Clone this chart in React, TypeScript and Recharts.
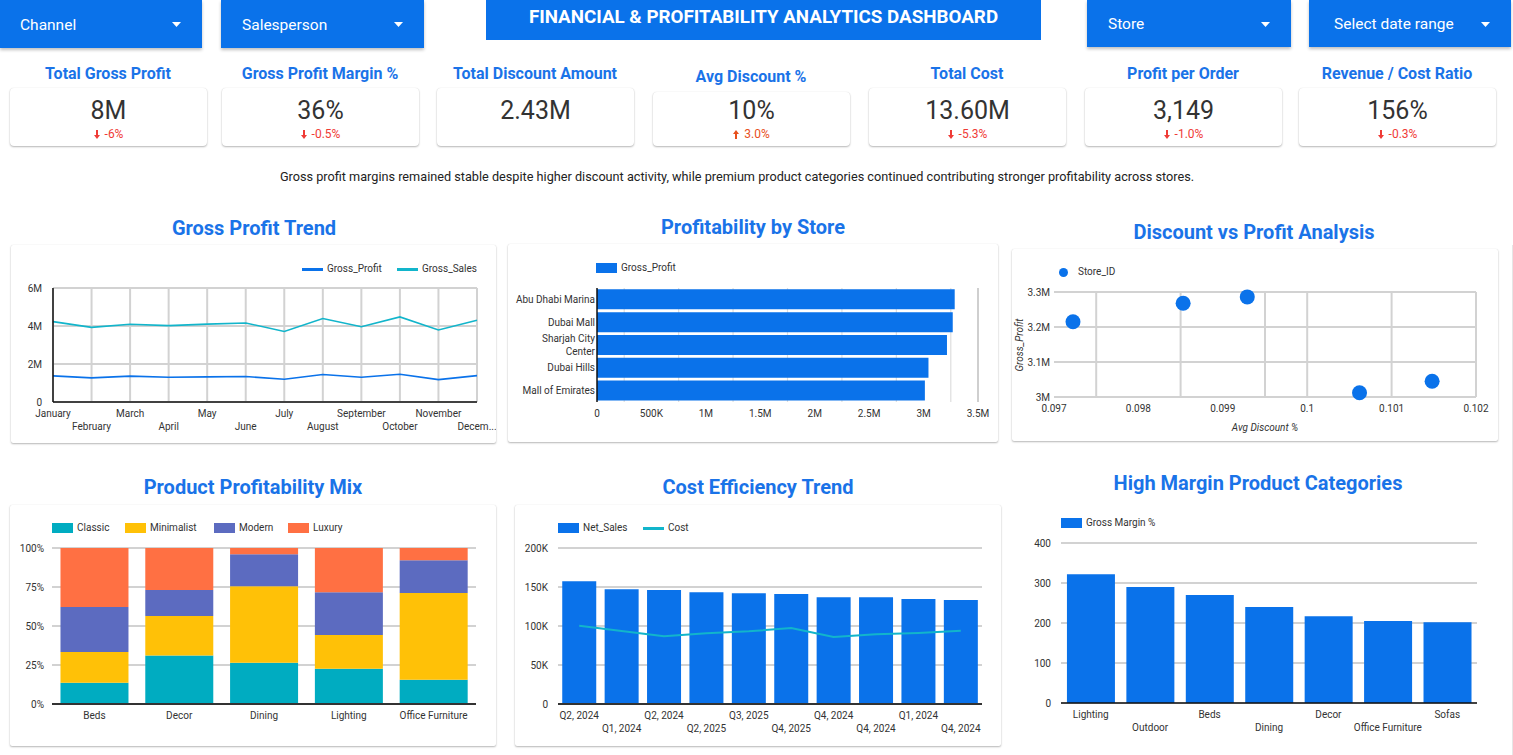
import React from 'react';
import {
  LineChart,
  Line,
  BarChart,
  Bar,
  ComposedChart,
  ScatterChart,
  Scatter,
  XAxis,
  YAxis,
  CartesianGrid,
  ReferenceLine,
} from 'recharts';

// ---------- data ----------
const months = [
  'January', 'February', 'March', 'April', 'May', 'June',
  'July', 'August', 'September', 'October', 'November', 'December',
];
const monthlyGrossProfit = [1375000, 1270000, 1360000, 1300000, 1320000, 1340000, 1200000, 1450000, 1300000, 1460000, 1180000, 1390000];
const monthlyGrossSales = [4230000, 3930000, 4090000, 4020000, 4100000, 4160000, 3710000, 4390000, 3960000, 4480000, 3790000, 4300000];
const trendTicks = [0, 2000000, 4000000, 6000000];
const trendGrid = [0, 1000000, 2000000, 3000000, 4000000, 5000000, 6000000];

const stores = ['Abu Dhabi Marina', 'Dubai Mall', 'Sharjah City Center', 'Dubai Hills', 'Mall of Emirates'];
const storeGrossProfit = [3286000, 3268000, 3215000, 3045000, 3012000];
const storeAvgDiscount = [0.09929, 0.09853, 0.097225, 0.10148, 0.10062];
const storeTicks = [0, 500000, 1000000, 1500000, 2000000, 2500000, 3000000, 3500000];
const storeGrid = [250000, 500000, 750000, 1000000, 1250000, 1500000, 1750000, 2000000, 2250000, 2500000, 2750000, 3000000, 3250000];

const discountTicks = [0.097, 0.098, 0.099, 0.1, 0.101, 0.102];
const discountGrid = [0.097, 0.0975, 0.098, 0.0985, 0.099, 0.0995, 0.1, 0.1005, 0.101, 0.1015, 0.102];
const scatterProfitTicks = [3000000, 3100000, 3200000, 3300000];
const scatterProfitGrid = [3000000, 3050000, 3100000, 3150000, 3200000, 3250000, 3300000];

const mixCategories = ['Beds', 'Decor', 'Dining', 'Lighting', 'Office Furniture'];
const classicShare = [13.6, 31.1, 26.4, 22.6, 15.5];
const minimalistShare = [19.8, 25.3, 49.1, 21.7, 55.6];
const modernShare = [28.7, 16.6, 20.5, 27.4, 21.0];
const luxuryShare = [37.9, 27.0, 4.0, 28.3, 7.9];
const shareTicks = [0, 0.25, 0.5, 0.75, 1];

const quarters = ['Q2, 2024', 'Q1, 2024', 'Q2, 2024', 'Q2, 2025', 'Q3, 2025', 'Q4, 2025', 'Q4, 2024', 'Q4, 2024', 'Q1, 2024', 'Q4, 2024'];
const quarterNetSales = [157400, 147200, 146000, 143400, 142100, 140900, 137000, 137000, 134500, 133200];
const quarterCost = [100400, 93600, 86800, 90600, 93200, 97400, 86000, 89400, 91100, 94000];
const salesTicks = [0, 50000, 100000, 150000, 200000];
const salesGrid = [0, 25000, 50000, 75000, 100000, 125000, 150000, 175000, 200000];

const marginCategories = ['Lighting', 'Outdoor', 'Beds', 'Dining', 'Decor', 'Office Furniture', 'Sofas'];
const grossMarginPct = [322, 290, 270, 240, 217, 205, 202];
const marginTicks = [0, 100, 200, 300, 400];
const marginGrid = [0, 50, 100, 150, 200, 250, 300, 350, 400];

const filters = ['Channel', 'Salesperson', 'Store', 'Select date range'];
const kpiTitles = ['Total Gross Profit', 'Gross Profit Margin %', 'Total Discount Amount', 'Avg Discount %', 'Total Cost', 'Profit per Order', 'Revenue / Cost Ratio'];
const kpiValues = ['8M', '36%', '2.43M', '10%', '13.60M', '3,149', '156%'];
const kpiDeltas = ['-6%', '-0.5%', '', '3.0%', '-5.3%', '-1.0%', '-0.3%'];

// ---------- tables built for the charts ----------
const trendData = months.map((m, i) => ({ month: m, Gross_Profit: monthlyGrossProfit[i], Gross_Sales: monthlyGrossSales[i] }));
const storeData = stores.map((s, i) => ({ store: s, Gross_Profit: storeGrossProfit[i] }));
const scatterData = stores.map((s, i) => ({ store: s, discount: storeAvgDiscount[i], profit: storeGrossProfit[i] }));
const mixData = mixCategories.map((c, i) => ({
  category: c,
  Classic: classicShare[i],
  Minimalist: minimalistShare[i],
  Modern: modernShare[i],
  Luxury: luxuryShare[i],
}));
const quarterData = quarters.map((q, i) => ({ quarter: q, Net_Sales: quarterNetSales[i], Cost: quarterCost[i] }));
const marginData = marginCategories.map((c, i) => ({ category: c, margin: grossMarginPct[i] }));

// ---------- styling ----------
const FONT = 'Roboto, "Noto Sans", sans-serif';
const BLUE = '#0a72ea';
const TITLE_BLUE = '#1a73e8';
const TEAL = '#12b5cb';
const GRID = '#d2d2d2';
const TICK_COLOR = '#333';
const C_CLASSIC = '#00acc1';
const C_MINIMAL = '#ffc107';
const C_MODERN = '#5c6bc0';
const C_LUXURY = '#ff7043';
const tickStyle = { fontSize: 10, fill: TICK_COLOR, fontFamily: FONT };

const fmtM = (v: number) => (v === 0 ? '0' : `${v / 1e6}M`);
const fmtK = (v: number) => (v === 0 ? '0' : v >= 1e6 ? `${v / 1e6}M` : `${v / 1e3}K`);

// rough advance widths of 10px Roboto, used to shorten labels that run off the chart
function textWidth(s: string) {
  let w = 0;
  for (const ch of s) {
    if ('iIjl.,\' '.includes(ch)) w += 2.5;
    else if ('frt'.includes(ch)) w += 3.4;
    else if ('mwMW'.includes(ch)) w += 8.6;
    else if (ch >= 'A' && ch <= 'Z') w += 6.4;
    else w += 5.5;
  }
  return w;
}

function fitLabel(label: string, room: number) {
  if (textWidth(label) <= room) return label;
  let n = label.length - 1;
  while (n > 1 && textWidth(label.slice(0, n) + '...') > room) n -= 1;
  return label.slice(0, n) + '...';
}

// x-axis label that alternates between two rows and is cut short at the chart edge
function StaggerTick(props: any) {
  const { x, y, payload, index, limit } = props;
  const row = index % 2;
  const room = limit ? 2 * (limit - x) : 400;
  return (
    <text x={x} y={y + row * 13} dy="0.71em" textAnchor="middle" fontSize={10} fill={TICK_COLOR} fontFamily={FONT}>
      {fitLabel(String(payload.value), room)}
    </text>
  );
}

function wrapWords(label: string, maxChars: number) {
  const words = label.split(' ');
  const lines: string[] = [];
  let cur = '';
  words.forEach((w) => {
    const next = cur ? `${cur} ${w}` : w;
    if (next.length > maxChars && cur) {
      lines.push(cur);
      cur = w;
    } else {
      cur = next;
    }
  });
  if (cur) lines.push(cur);
  return lines;
}

function StoreTick(props: any) {
  const { x, y, payload } = props;
  const lines = wrapWords(String(payload.value), 16);
  const lh = 12.5;
  const y0 = y - ((lines.length - 1) * lh) / 2;
  return (
    <text x={x} y={y0} textAnchor="end" fontSize={10} fill={TICK_COLOR} fontFamily={FONT}>
      {lines.map((l, i) => (
        <tspan key={i} x={x} dy={i === 0 ? '0.355em' : lh}>
          {l}
        </tspan>
      ))}
    </text>
  );
}

const StoreDot = (p: any) => <circle cx={p.cx} cy={p.cy} r={7.5} fill={BLUE} />;

// ---------- layout helpers ----------
function Card({ x, y, w, h, radius = 2, children }: any) {
  return (
    <div
      style={{
        position: 'absolute',
        left: x,
        top: y,
        width: w,
        height: h,
        background: '#fff',
        borderRadius: radius,
        boxShadow: '0 1px 2px rgba(0,0,0,0.28), 0 0 1px rgba(0,0,0,0.12)',
      }}
    >
      {children}
    </div>
  );
}

function CenterText({ cx, cy, size, weight = 400, color, children, italic = false }: any) {
  return (
    <div
      style={{
        position: 'absolute',
        left: cx - 700,
        width: 1400,
        top: cy - size,
        height: size * 2,
        lineHeight: `${size * 2}px`,
        textAlign: 'center',
        fontSize: size,
        fontWeight: weight,
        color,
        fontStyle: italic ? 'italic' : 'normal',
        whiteSpace: 'nowrap',
      }}
    >
      {children}
    </div>
  );
}

function LegendItem({ x, y, color, label, kind = 'rect' }: any) {
  let mark;
  if (kind === 'rect') {
    mark = <div style={{ position: 'absolute', left: x, top: y - 5, width: 21, height: 10, background: color }} />;
  } else if (kind === 'line') {
    mark = <div style={{ position: 'absolute', left: x, top: y - 1.5, width: 21, height: 3, background: color }} />;
  } else {
    mark = <div style={{ position: 'absolute', left: x, top: y - 4.5, width: 9, height: 9, borderRadius: '50%', background: color }} />;
  }
  const textLeft = kind === 'circle' ? x + 19 : x + 25;
  return (
    <>
      {mark}
      <div style={{ position: 'absolute', left: textLeft, top: y - 7, height: 14, lineHeight: '14px', fontSize: 10, color: TICK_COLOR, whiteSpace: 'nowrap' }}>
        {label}
      </div>
    </>
  );
}

function Arrow({ up, color }: any) {
  return (
    <svg width={6} height={9} viewBox="0 0 6 9" style={{ marginRight: 5, verticalAlign: '-1px' }}>
      <path d={up ? 'M3 0l3 4h-2v5h-2v-5h-2z' : 'M2 0h2v5h2l-3 4-3-4h2z'} fill={color} />
    </svg>
  );
}

function Dropdown({ x, w, h, label, pad = 20 }: any) {
  return (
    <div
      style={{
        position: 'absolute',
        left: x,
        top: 0,
        width: w,
        height: h,
        background: BLUE,
        boxShadow: '0 2px 3px rgba(0,0,0,0.25)',
        color: '#fff',
      }}
    >
      <div style={{ position: 'absolute', left: pad, top: 1, height: h, lineHeight: `${h}px`, fontSize: 15.5 }}>{label}</div>
      <svg width={9} height={5} style={{ position: 'absolute', right: 21, top: h / 2 - 2 }}>
        <path d="M0 0h9l-4.5 5z" fill="#fff" />
      </svg>
    </div>
  );
}

const kpiBoxes = [
  { x: 10, y: 88 },
  { x: 222, y: 88 },
  { x: 437, y: 88 },
  { x: 653, y: 92 },
  { x: 869, y: 88 },
  { x: 1085, y: 88 },
  { x: 1299, y: 88 },
];

export default function App() {
  return (
    <div
      style={{
        position: 'absolute',
        left: 0,
        top: 0,
        width: 1513,
        height: 755,
        background: '#fff',
        fontFamily: FONT,
        overflow: 'hidden',
      }}
    >
      {/* header row */}
      <Dropdown x={0} w={202} h={48} label={filters[0]} />
      <Dropdown x={221} w={203} h={48} label={filters[1]} pad={21} />
      <div
        style={{
          position: 'absolute',
          left: 486,
          top: 0,
          width: 555,
          height: 40,
          background: BLUE,
          color: '#fff',
          fontWeight: 700,
          fontSize: 18.8,
          textAlign: 'center',
          lineHeight: '34px',
        }}
      >
        FINANCIAL &amp; PROFITABILITY ANALYTICS DASHBOARD
      </div>
      <Dropdown x={1087} w={204} h={47} label={filters[2]} pad={21} />
      <Dropdown x={1309} w={202} h={47} label={filters[3]} pad={25} />

      {/* KPI cards */}
      {kpiBoxes.map((b, i) => {
        const cx = b.x + 98;
        const delta = kpiDeltas[i];
        const up = delta !== '' && !delta.startsWith('-');
        const dColor = up ? '#e8501c' : '#ef3b36';
        return (
          <React.Fragment key={i}>
            <CenterText cx={cx} cy={b.y === 92 ? 77 : 74} size={16} weight={700} color={TITLE_BLUE}>
              {kpiTitles[i]}
            </CenterText>
            <Card x={b.x} y={b.y} w={197} h={146 - b.y} radius={4}>
              <div style={{ position: 'absolute', left: 0, width: 197, top: 111 - b.y - 15, height: 30, lineHeight: '30px', textAlign: 'center', fontSize: 25, color: '#333' }}>
                {kpiValues[i]}
              </div>
              {delta !== '' && (
                <div style={{ position: 'absolute', left: 0, width: 197, top: 134 - b.y - 8, height: 16, lineHeight: '16px', textAlign: 'center', fontSize: 12, color: dColor }}>
                  <Arrow up={up} color={dColor} />
                  {delta}
                </div>
              )}
            </Card>
          </React.Fragment>
        );
      })}

      <CenterText cx={737} cy={177} size={12.7} color="#222">
        Gross profit margins remained stable despite higher discount activity, while premium product categories continued contributing stronger profitability across stores.
      </CenterText>

      {/* section titles */}
      <CenterText cx={254} cy={228} size={20} weight={700} color={TITLE_BLUE}>Gross Profit Trend</CenterText>
      <CenterText cx={753} cy={227} size={20} weight={700} color={TITLE_BLUE}>Profitability by Store</CenterText>
      <CenterText cx={1254} cy={232} size={20} weight={700} color={TITLE_BLUE}>Discount vs Profit Analysis</CenterText>
      <CenterText cx={253} cy={487} size={20} weight={700} color={TITLE_BLUE}>Product Profitability Mix</CenterText>
      <CenterText cx={758} cy={487} size={20} weight={700} color={TITLE_BLUE}>Cost Efficiency Trend</CenterText>
      <CenterText cx={1258} cy={483} size={20} weight={700} color={TITLE_BLUE}>High Margin Product Categories</CenterText>

      {/* Gross Profit Trend */}
      <Card x={11} y={245} w={485} h={198}>
        <LineChart width={485} height={198} data={trendData} margin={{ top: 43, right: 19, bottom: 11, left: 2 }} style={{ overflow: 'visible' }}>
          <CartesianGrid stroke={GRID} strokeWidth={2} horizontalValues={trendGrid} />
          <XAxis
            dataKey="month"
            interval={0}
            tickLine={false}
            axisLine={{ stroke: '#111', strokeWidth: 1.5 }}
            height={30}
            tick={(p: any) => <StaggerTick {...p} limit={487} />}
          />
          <YAxis
            width={40}
            domain={[0, 6000000]}
            ticks={trendTicks}
            tickFormatter={fmtM}
            tickLine={false}
            tickMargin={5}
            axisLine={{ stroke: '#111', strokeWidth: 1.5 }}
            tick={tickStyle}
          />
          <Line type="linear" dataKey="Gross_Sales" stroke={TEAL} strokeWidth={1.6} dot={false} isAnimationActive={false} />
          <Line type="linear" dataKey="Gross_Profit" stroke={BLUE} strokeWidth={1.6} dot={false} isAnimationActive={false} />
        </LineChart>
      </Card>
      <LegendItem x={302} y={269} color={BLUE} label="Gross_Profit" kind="line" />
      <LegendItem x={397} y={269} color={TEAL} label="Gross_Sales" kind="line" />

      {/* Profitability by Store */}
      <Card x={508} y={244} w={490} h={198}>
        <BarChart
          width={490}
          height={198}
          data={storeData}
          layout="vertical"
          barCategoryGap="6%"
          margin={{ top: 44, right: 20, bottom: 10, left: 1 }}
        >
          <CartesianGrid horizontal={false} stroke="#dedede" strokeWidth={1.2} verticalValues={storeGrid} />
          <ReferenceLine x={3500000} stroke="#cfcfcf" strokeWidth={2} />
          <XAxis
            type="number"
            domain={[0, 3500000]}
            ticks={storeTicks}
            tickFormatter={fmtK}
            tickLine={false}
            axisLine={false}
            height={30}
            tick={tickStyle}
          />
          <YAxis
            type="category"
            dataKey="store"
            width={88}
            tickLine={false}
            tickSize={0}
            tickMargin={2}
            axisLine={{ stroke: '#111', strokeWidth: 1.5 }}
            interval={0}
            tick={(p: any) => <StoreTick {...p} />}
          />
          <Bar dataKey="Gross_Profit" fill={BLUE} isAnimationActive={false} />
        </BarChart>
      </Card>
      <LegendItem x={596} y={268} color={BLUE} label="Gross_Profit" />

      {/* Discount vs Profit Analysis */}
      <Card x={1012} y={249} w={486} h={192}>
        <ScatterChart width={486} height={192} margin={{ top: 43, right: 22, bottom: 14, left: 8 }}>
          <CartesianGrid stroke={GRID} strokeWidth={2} horizontalValues={scatterProfitGrid} verticalValues={discountGrid} />
          <XAxis
            type="number"
            dataKey="discount"
            domain={[0.097, 0.102]}
            ticks={discountTicks}
            tickFormatter={(v: number) => String(v)}
            tickLine={false}
            axisLine={false}
            height={30}
            tick={tickStyle}
          />
          <YAxis
            type="number"
            dataKey="profit"
            domain={[3000000, 3300000]}
            ticks={scatterProfitTicks}
            tickFormatter={fmtM}
            width={34}
            tickSize={0}
            tickMargin={4}
            tickLine={false}
            axisLine={false}
            tick={tickStyle}
          />
          <Scatter data={scatterData} fill={BLUE} shape={StoreDot} isAnimationActive={false} />
        </ScatterChart>
      </Card>
      <LegendItem x={1059} y={272} color={BLUE} label="Store_ID" kind="circle" />
      <div
        style={{
          position: 'absolute',
          left: 1020 - 40,
          top: 345 - 7,
          width: 80,
          height: 14,
          lineHeight: '14px',
          textAlign: 'center',
          fontSize: 10,
          fontStyle: 'italic',
          color: TICK_COLOR,
          transform: 'rotate(-90deg)',
        }}
      >
        Gross_Profit
      </div>
      <div style={{ position: 'absolute', left: 1265 - 60, top: 428 - 7, width: 120, height: 14, lineHeight: '14px', textAlign: 'center', fontSize: 10, fontStyle: 'italic', color: TICK_COLOR }}>
        Avg Discount %
      </div>

      {/* Product Profitability Mix */}
      <Card x={10} y={505} w={486} h={241}>
        <BarChart width={486} height={241} data={mixData} stackOffset="expand" margin={{ top: 43, right: 20, bottom: 12, left: 2 }}>
          <CartesianGrid vertical={false} stroke={GRID} strokeWidth={2} />
          <XAxis dataKey="category" interval={0} tickLine={false} axisLine={{ stroke: '#333', strokeWidth: 2 }} height={30} tick={tickStyle} />
          <YAxis
            width={40}
            domain={[0, 1]}
            ticks={shareTicks}
            tickFormatter={(v: number) => `${Math.round(v * 100)}%`}
            tickLine={false}
            axisLine={false}
            tick={tickStyle}
          />
          <Bar dataKey="Classic" stackId="mix" fill={C_CLASSIC} isAnimationActive={false} />
          <Bar dataKey="Minimalist" stackId="mix" fill={C_MINIMAL} isAnimationActive={false} />
          <Bar dataKey="Modern" stackId="mix" fill={C_MODERN} isAnimationActive={false} />
          <Bar dataKey="Luxury" stackId="mix" fill={C_LUXURY} isAnimationActive={false} />
        </BarChart>
      </Card>
      <LegendItem x={52} y={528} color={C_CLASSIC} label="Classic" />
      <LegendItem x={125} y={528} color={C_MINIMAL} label="Minimalist" />
      <LegendItem x={214} y={528} color={C_MODERN} label="Modern" />
      <LegendItem x={288} y={528} color={C_LUXURY} label="Luxury" />

      {/* Cost Efficiency Trend */}
      <Card x={515} y={505} w={486} h={241}>
        <ComposedChart width={486} height={241} data={quarterData} margin={{ top: 43, right: 19, bottom: 12, left: 3 }}>
          <CartesianGrid vertical={false} stroke={GRID} strokeWidth={2} horizontalValues={salesGrid} />
          <XAxis
            dataKey="quarter"
            interval={0}
            tickLine={false}
            axisLine={{ stroke: '#333', strokeWidth: 2 }}
            height={30}
            tick={(p: any) => <StaggerTick {...p} />}
          />
          <YAxis
            width={40}
            domain={[0, 200000]}
            ticks={salesTicks}
            tickFormatter={fmtK}
            tickLine={false}
            tickMargin={4}
            axisLine={false}
            tick={tickStyle}
          />
          <Bar dataKey="Net_Sales" fill={BLUE} isAnimationActive={false} />
          <Line type="linear" dataKey="Cost" stroke={TEAL} strokeWidth={2} dot={false} isAnimationActive={false} />
        </ComposedChart>
      </Card>
      <LegendItem x={558} y={528} color={BLUE} label="Net_Sales" />
      <LegendItem x={643} y={528} color={TEAL} label="Cost" kind="line" />

      {/* High Margin Product Categories */}
      <div style={{ position: 'absolute', left: 1005, top: 500 }}>
        <BarChart width={508} height={250} data={marginData} margin={{ top: 43, right: 36, bottom: 17, left: 16 }}>
          <CartesianGrid vertical={false} stroke={GRID} strokeWidth={2} horizontalValues={marginGrid} />
          <XAxis
            dataKey="category"
            interval={0}
            tickLine={false}
            axisLine={{ stroke: '#111', strokeWidth: 1.5 }}
            height={30}
            tick={(p: any) => <StaggerTick {...p} />}
          />
          <YAxis
            width={40}
            domain={[0, 400]}
            ticks={marginTicks}
            tickLine={false}
            tickMargin={4}
            axisLine={false}
            tick={tickStyle}
          />
          <Bar dataKey="margin" fill={BLUE} isAnimationActive={false} />
        </BarChart>
      </div>
      <LegendItem x={1061} y={523} color={BLUE} label="Gross Margin %" />
      <div style={{ position: 'absolute', left: 1512, top: 245, width: 1, height: 510, background: '#e6e6e6' }} />
    </div>
  );
}
